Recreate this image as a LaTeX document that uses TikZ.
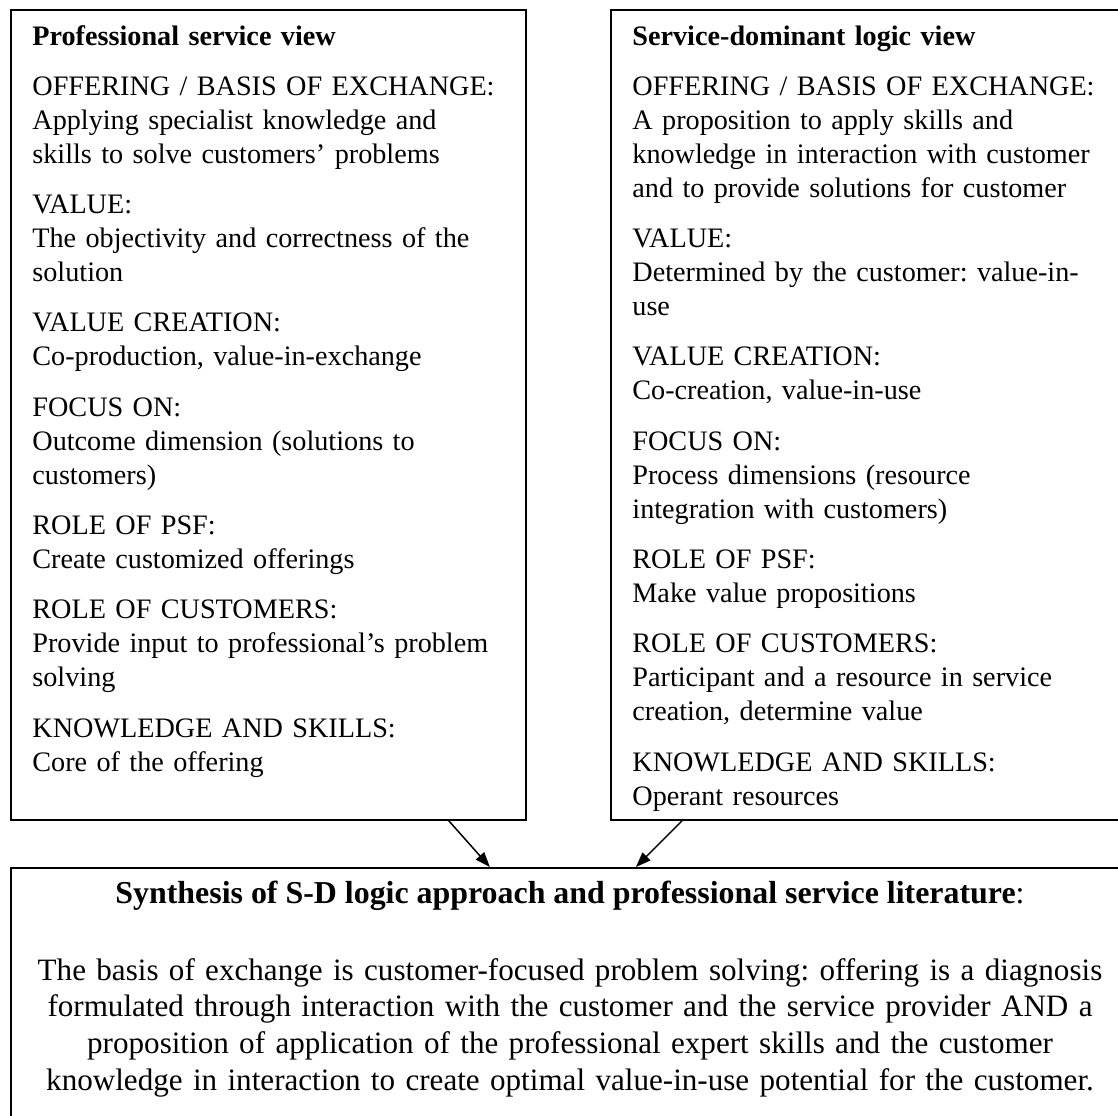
\documentclass[tikz,border=0pt]{standalone}
\usepackage{fontspec}
\setmainfont{Liberation Serif}
\usepackage{tikz}
\usetikzlibrary{arrows.meta}
\frenchspacing

\begin{document}
\begin{tikzpicture}[x=0.5pt, y=-0.5pt,
		frame/.style={draw, line width=0.9pt, inner sep=0pt, anchor=north west},
		viewtext/.style={anchor=base west, inner sep=0pt, text width=250pt, align=left,
			font=\fontsize{14.1pt}{17pt}\selectfont},
		syntext/.style={anchor=base, inner sep=0pt, font=\fontsize{15.95pt}{18.35pt}\selectfont},
		link/.style={-{Triangle[length=7.5pt,width=5.5pt]}, line width=0.75pt}]
		\useasboundingbox (0,0) rectangle (1118,1115);
		
		% 两个观点框
		\node[frame, minimum width=257.5pt, minimum height=405pt] (psv) at (10,9) {};
		\node[frame, minimum width=257.5pt, minimum height=405pt] (sdl) at (610,9) {};
		
		% 综合框
		\node[frame, minimum width=560pt, minimum height=150pt] (syn) at (10,867) {};
		
		% 左框文字
		\node[viewtext] (psvtext) at (32,45) {\textbf{Professional service view}\\[8.15pt]
			OFFERING / BASIS OF EXCHANGE:\\
			Applying specialist knowledge and\\
			skills to solve customers' problems\\[8.15pt]
			VALUE:\\
			The objectivity and correctness of the\\
			solution\\[8.15pt]
			VALUE CREATION:\\
			Co-production, value-in-exchange\\[8.15pt]
			FOCUS ON:\\
			Outcome dimension (solutions to\\
			customers)\\[8.15pt]
			ROLE OF PSF:\\
			Create customized offerings\\[8.15pt]
			ROLE OF CUSTOMERS:\\
			Provide input to professional's problem\\
			solving\\[8.15pt]
			KNOWLEDGE AND SKILLS:\\
			Core of the offering};
		
		% 右框文字
		\node[viewtext] (sdltext) at (632,45) {\textbf{Service-dominant logic view}\\[8.15pt]
			OFFERING / BASIS OF EXCHANGE:\\
			A proposition to apply skills and\\
			knowledge in interaction with customer\\
			and to provide solutions for customer\\[8.15pt]
			VALUE:\\
			Determined by the customer: value-in-\\
			use\\[8.15pt]
			VALUE CREATION:\\
			Co-creation, value-in-use\\[8.15pt]
			FOCUS ON:\\
			Process dimensions (resource\\
			integration with customers)\\[8.15pt]
			ROLE OF PSF:\\
			Make value propositions\\[8.15pt]
			ROLE OF CUSTOMERS:\\
			Participant and a resource in service\\
			creation, determine value\\[8.15pt]
			KNOWLEDGE AND SKILLS:\\
			Operant resources};
		
		% 综合框文字
		\node[syntext] (syntitle) at (570,903) {\textbf{Synthesis of S-D logic approach and professional service literature}:};
		\node[syntext, text width=590pt, align=center, font=\fontsize{15.55pt}{18.35pt}\selectfont] (synbody) at (570,980) {The basis of exchange is customer-focused problem solving: offering is a diagnosis\\
			formulated through interaction with the customer and the service provider AND a\\
			proposition of application of the professional expert skills and the customer\\
			knowledge in interaction to create optimal value-in-use potential for the customer.};
		
		% 箭头
		\draw[link] ([xshift=-39pt]psv.south east) -- ([xshift=-40.5pt]syn.north);
		\draw[link] ([xshift=36pt]sdl.south west) -- ([xshift=32.5pt]syn.north);
	\end{tikzpicture}
\end{document}
